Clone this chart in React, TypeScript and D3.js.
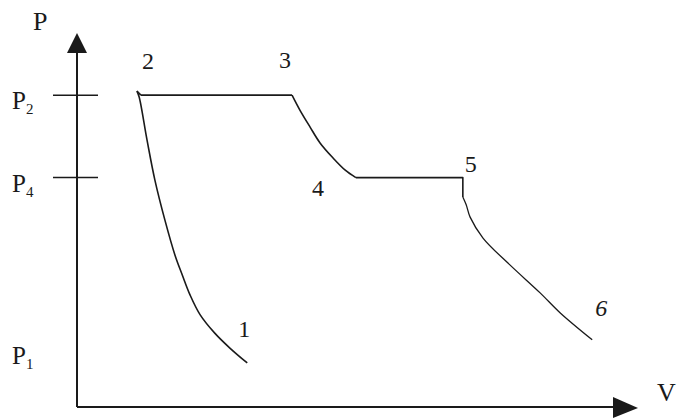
import React from "react";
import * as d3 from "d3";

// P–V diagram data (V, P in arbitrary units)
const compressionV = [3.04, 2.73, 2.46, 2.2, 2.02, 1.88, 1.75, 1.57, 1.39, 1.25, 1.11, 1.07];
const compressionP = [1.18, 1.58, 1.98, 2.47, 3.0, 3.54, 4.07, 5.01, 6.09, 7.16, 8.31, 8.47];
const hookV = [1.07, 1.14];
const hookP = [8.47, 8.36];
const P2 = 8.36;
const P4 = 6.15;
const P1 = 1.53;
const V2 = 1.14;
const V3 = 3.84;
const expansion1V = [3.84, 3.98, 4.16, 4.34, 4.57, 4.79, 4.98];
const expansion1P = [8.36, 7.96, 7.51, 7.08, 6.68, 6.35, 6.15];
const V5 = 6.89;
const drop5P = 5.63;
const expansion2V = [6.89, 6.95, 7.02, 7.25, 7.73, 8.27, 8.63, 9.2];
const expansion2P = [5.63, 5.42, 5.09, 4.53, 3.81, 3.06, 2.52, 1.8];
const pointLabels = ["1", "2", "3", "4", "5", "6"];
const pressureLabels = [
  { sub: "2", p: P2 },
  { sub: "4", p: P4 },
  { sub: "1", p: P1 },
];

const W = 678;
const H = 418;

export default function App() {
  const x = d3.scaleLinear().domain([0, 10]).range([77, 637]);
  const y = d3.scaleLinear().domain([0, 10]).range([407, 34]);

  const line = d3
    .line<[number, number]>()
    .x((d) => x(d[0]))
    .y((d) => y(d[1]));
  const smooth = d3
    .line<[number, number]>()
    .x((d) => x(d[0]))
    .y((d) => y(d[1]))
    .curve(d3.curveCatmullRom);

  const zip = (a: number[], b: number[]) => a.map((v, i) => [v, b[i]] as [number, number]);

  const ink = "#1a1a1a";
  const font = "'Liberation Serif', 'Times New Roman', serif";

  const x0 = x(0);
  const y0 = y(0);
  const yTop = y(10);
  const xEnd = x(10);

  const labelPos: [number, number, number, number][] = [
    [compressionV[0], compressionP[0], -9, -26],
    [hookV[0], hookP[0], 5, -22],
    [V3, P2, -13, -27],
    [expansion1V[expansion1V.length - 1], P4, -44, 18],
    [V5, P4, 2, -6],
    [expansion2V[expansion2V.length - 1], expansion2P[expansion2P.length - 1], 3, -24],
  ];

  return (
    <svg
      width={W}
      height={H}
      style={{ position: "absolute", left: 0, top: 0, background: "#fff" }}
    >
      <rect width={W} height={H} fill="#fff" />
      {/* axes */}
      <line x1={x0} y1={y0} x2={x0} y2={yTop + 14} stroke={ink} strokeWidth={2} />
      <line x1={x0} y1={y0} x2={xEnd - 20} y2={y0} stroke={ink} strokeWidth={2} />
      <path
        d={`M${x0},${yTop - 1} L${x0 + 10},${yTop + 19} L${x0 - 10},${yTop + 19} Z`}
        fill={ink}
      />
      <path
        d={`M${xEnd + 1},${y0 + 1} L${xEnd - 24},${y0 + 11} L${xEnd - 24},${y0 - 10} Z`}
        fill={ink}
      />
      <text x={33} y={30} fontFamily={font} fontSize={26} fill={ink}>
        P
      </text>
      <text x={657} y={401} fontFamily={font} fontSize={26} fill={ink}>
        V
      </text>

      {/* pressure ticks */}
      {pressureLabels.slice(0, 2).map((d) => (
        <line
          key={"t" + d.sub}
          x1={x0 - 24}
          x2={x0 + 21}
          y1={y(d.p)}
          y2={y(d.p)}
          stroke={ink}
          strokeWidth={1.5}
        />
      ))}
      {pressureLabels.map((d) => (
        <text
          key={"p" + d.sub}
          x={12}
          y={y(d.p) + 14}
          fontFamily={font}
          fontSize={25}
          fill={ink}
        >
          P
          <tspan fontSize={15} dy={5}>
            {d.sub}
          </tspan>
        </text>
      ))}

      {/* process curves */}
      <g fill="none" stroke={ink} strokeWidth={1.6} strokeLinejoin="round">
        <path d={smooth(zip(compressionV, compressionP)) || ""} />
        <path d={line(zip(hookV, hookP)) || ""} />
        <path d={line([[V2, P2], [V3, P2]]) || ""} />
        <path d={smooth(zip(expansion1V, expansion1P)) || ""} />
        <path d={line([[expansion1V[expansion1V.length - 1], P4], [V5, P4], [V5, drop5P]]) || ""} />
        <path d={smooth(zip(expansion2V, expansion2P)) || ""} strokeWidth={1.3} />
      </g>

      {/* state point labels */}
      {pointLabels.map((t, i) => {
        const [v, p, dx, dy] = labelPos[i];
        return (
          <text
            key={t}
            x={x(v) + dx}
            y={y(p) + dy}
            fontFamily={font}
            fontSize={24}
            fill={ink}
            fontStyle={t === "6" ? "italic" : "normal"}
          >
            {t}
          </text>
        );
      })}
    </svg>
  );
}
